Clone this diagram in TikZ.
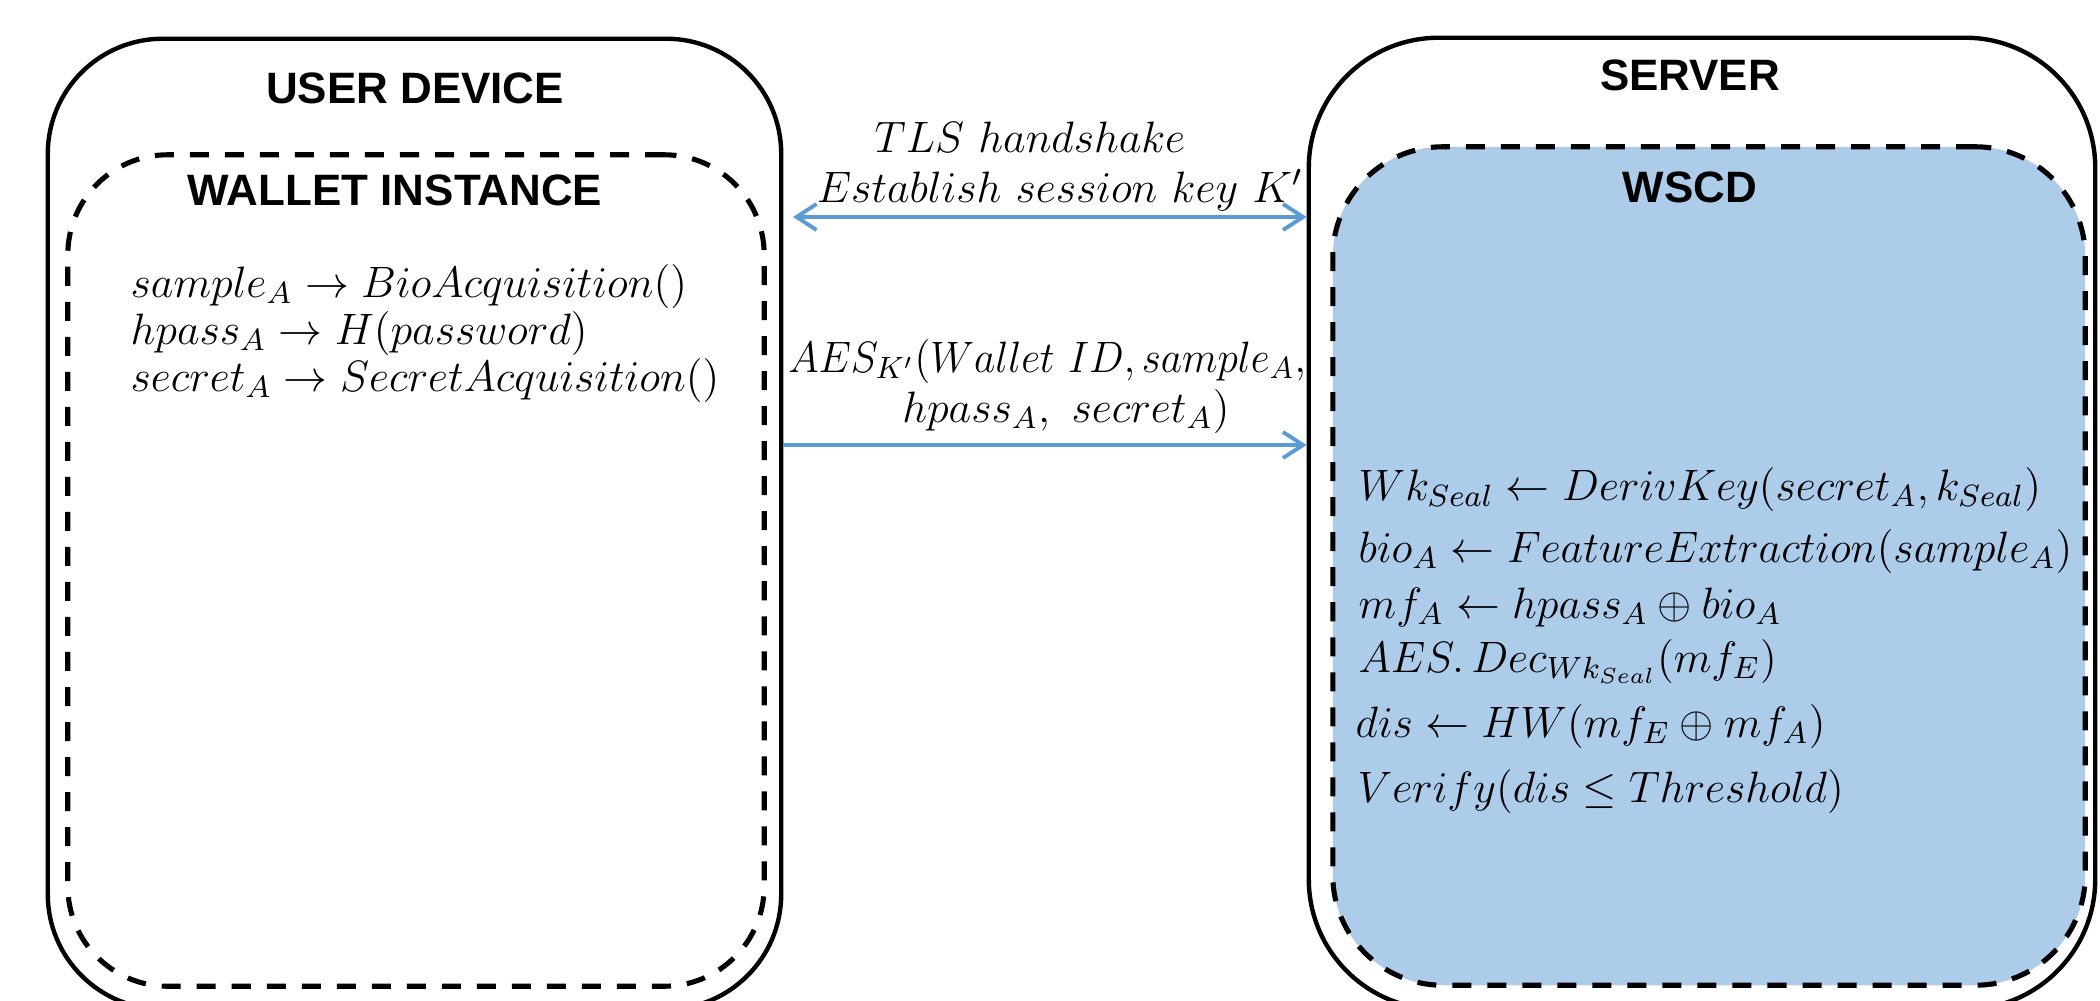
\documentclass[tikz,border=0pt]{standalone}
\usepackage{fix-cm}
\usepackage{amsmath}
\usepackage{graphicx}
\usepackage{fontspec}
\newfontfamily\titlefont{Liberation Sans}
\usetikzlibrary{arrows.meta}
\definecolor{arrowblue}{RGB}{91,155,213}
\definecolor{wscdfill}{RGB}{173,204,234}
\begin{document}
\begin{tikzpicture}[x=0.01cm,y=-0.01cm,
  outerbox/.style={draw=black, line width=1.25pt, rectangle, inner sep=0pt},
  innerbox/.style={draw=black, line width=1.45pt, rectangle, inner sep=0pt,
    dash pattern=on 0.19cm off 0.16cm},
  titletext/.style={font=\titlefont\bfseries\fontsize{12.5}{14}\selectfont, inner sep=0pt},
  mline/.style={anchor=base west, inner sep=0pt, font=\fontsize{12.5}{14}\selectfont},
  clabel/.style={anchor=base, inner sep=0pt, font=\fontsize{12.5}{14}\selectfont},
  conn/.style={draw=arrowblue, line width=1.1pt},
  tip/.tip={Straight Barb[length=0.2cm, width=0.26cm]}
]
\useasboundingbox (0,0) rectangle (2100,1000);
\clip (0,0) rectangle (2100,1000);

% boxes
\node[outerbox, rounded corners=1.15cm, minimum width=7.33cm, minimum height=9.70cm] (dev) at (414.5,524) {};
\node[innerbox, rounded corners=1.0cm, minimum width=6.96cm, minimum height=8.31cm] (wal) at (416,570.5) {};
\node[outerbox, rounded corners=1.3cm, minimum width=7.86cm, minimum height=9.71cm] (srv) at (1702,523.5) {};
\node[innerbox, fill=wscdfill, rounded corners=1.1cm, minimum width=7.52cm, minimum height=8.38cm] (wscd) at (1709,566) {};

% titles
\node[titletext] (tdev) at (415,88) {USER DEVICE};
\node[titletext] (twal) at (395,190) {WALLET INSTANCE};
\node[titletext] (tsrv) at (1690,75) {SERVER};
\node[titletext] (twscd) at (1690,187) {WSCD};

% wallet lines
\node[mline] (w1) at (130,297) {$sample_A \rightarrow BioAcquisition()$};
\node[mline] (w2) at (130,344) {$hpass_A \rightarrow H(password)$};
\node[mline] (w3) at (130,391) {$secret_A \rightarrow SecretAcquisition()$};

% server lines
\node[mline] (s1) at (1358,500) {$Wk_{Seal} \leftarrow DerivKey(secret_A, k_{Seal})$};
\node[mline] (s2) at (1358,562) {$bio_A \leftarrow FeatureExtraction(sample_A)$};
\node[mline] (s3) at (1358,618) {$mf_A \leftarrow hpass_A \oplus bio_A$};
\node[mline] (s4) at (1358,672) {$AES.\,Dec_{Wk_{Seal}}(mf_E)$};
\node[mline] (s5) at (1355,737) {$dis \leftarrow HW(mf_E \oplus mf_A)$};
\node[mline] (s6) at (1357,802) {$Verify(dis \le Threshold)$};

% connectors
\coordinate (tlsL) at (793,217);
\coordinate (aesY) at (0,445);
\draw[conn, {tip}-{tip}] (tlsL) -- (tlsL -| srv.west);
\draw[conn, -{tip}] (dev.east |- aesY) -- (srv.west |- aesY);

% connector labels
\node[clabel] (tls1) at (1030,152) {$TLS\ handshake$};
\node[clabel] (tls2) at (1060,202) {$Establish\ session\ key\ K^{\prime}$};
\node[clabel] (aes1) at (1047,372) {\scalebox{0.94}[1]{$AES_{K^{\prime}}(Wallet\ ID, sample_A,$}};
\node[clabel] (aes2) at (1066,422) {$hpass_A,\ secret_A)$};
\end{tikzpicture}
\end{document}
